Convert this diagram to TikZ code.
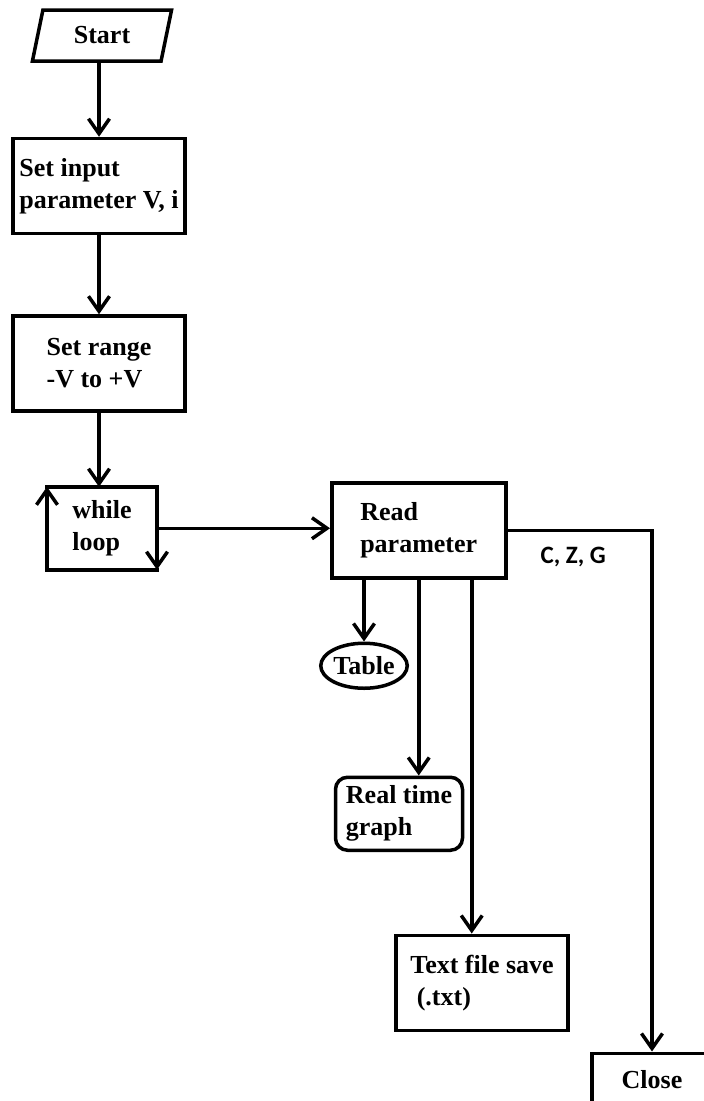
\documentclass[tikz,border=0pt]{standalone}
\usepackage{fontspec}
\setmainfont{Liberation Serif}
\setsansfont{Carlito}
\usetikzlibrary{shapes.geometric, arrows.meta, positioning}
\tikzstyle{txtbase} = [line width=3.5pt, font=\fontsize{26}{32}\selectfont\bfseries, align=left, inner sep=2pt]
\tikzstyle{startstop} = [txtbase, trapezium, trapezium left angle=76, trapezium right angle=104, trapezium stretches=true, minimum width=140pt, minimum height=51pt, draw=black]
\tikzstyle{stepa} = [txtbase, rectangle, minimum width=172pt, minimum height=95pt, draw=black]
\tikzstyle{stepb} = [txtbase, rectangle, minimum width=174pt, minimum height=95pt, draw=black]
\tikzstyle{stepc} = [txtbase, rectangle, minimum width=120pt, minimum height=52pt, draw=black]
\tikzstyle{loopbox} = [txtbase, rectangle, minimum width=110pt, minimum height=83pt, outer sep=0pt]
\tikzstyle{oval} = [txtbase, ellipse, minimum width=83pt, minimum height=45pt, inner sep=0pt, draw=black]
\tikzstyle{roundbox} = [txtbase, rectangle, rounded corners=12pt, minimum width=127pt, minimum height=73pt, draw=black]
\tikzstyle{lbl} = [font=\fontsize{25}{30}\selectfont\sffamily\bfseries, inner sep=0pt]
\tikzstyle{arrow} = [line width=3.5pt, -{Straight Barb[length=15pt,width=21pt]}]
\tikzstyle{edge} = [line width=3.5pt, line cap=rect]
\begin{document}
\begin{tikzpicture}[node distance=74pt]
\useasboundingbox [fill=white] (0,0) rectangle (704pt,-1101pt);
\node (start) [startstop] at (102pt,-35.5pt) {Start};
\node (input) [stepa, below=74pt of start, xshift=-3pt] {Set input\\parameter V, i};
\node (range) [stepa, below=79pt of input] {Set range\\-V to +V};
\node (loop) [loopbox, below=74pt of range, xshift=3pt] {while\\loop};

\node (read) [stepb, right=173pt of loop, yshift=-2pt] {Read\\parameter};
\node (czg) [lbl, right=33pt of read.east, yshift=-27pt] {C, Z, G};

\node (table) [oval, below=62pt of read.south west, xshift=34pt] {Table};
\node (graph) [roundbox, below=196pt of read.south west, xshift=69pt] {Real time\\graph};
\node (save) [stepa, below=354pt of read.south west, xshift=152pt] {Text file save\\\ (.txt)};
\node (close) [stepc, below=472pt of read.south east, xshift=144.5pt] {Close};

\coordinate (tap) at ([xshift=53pt]read.south);

\draw [arrow] (start.south -| input) -- (input.north);
\draw [arrow] (input) -- (range);
\draw [arrow] (range.south) -- (range.south |- loop.north);

\draw [edge] (loop.north west) -- (loop.north east);
\draw [edge] (loop.south west) -- (loop.south east);
\draw [arrow] (loop.south west) -- (loop.north west);
\draw [arrow] (loop.north east) -- (loop.south east);

\draw [arrow] (loop.east) -- (loop.east -| read.west);
\draw [arrow] (read.south -| table) -- (table.north);
\draw [arrow] (read.south) -- (read.south |- graph.north);
\draw [arrow] (tap) -- (tap |- save.north);
\draw [arrow] (read.east) -| (close.north);
\end{tikzpicture}
\end{document}
